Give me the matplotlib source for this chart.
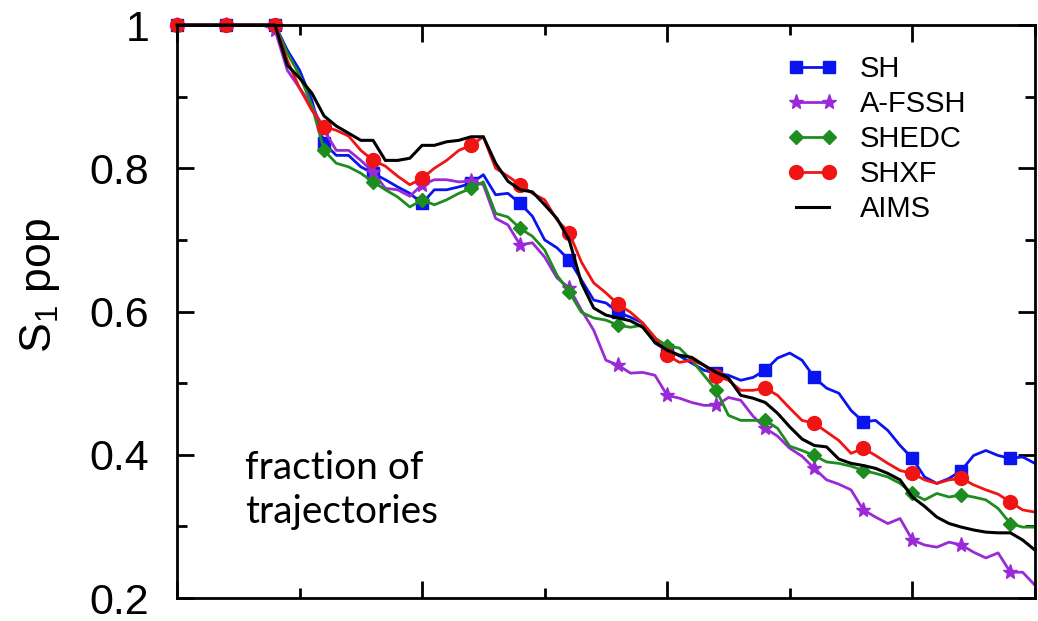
import numpy as np
import matplotlib
matplotlib.use("Agg")
import matplotlib.pyplot as plt
from matplotlib.ticker import MultipleLocator, FixedLocator, FixedFormatter

plt.rcParams['font.family'] = ['Liberation Sans', 'DejaVu Sans']
plt.rcParams['mathtext.default'] = 'regular'

# time axis (fs), one value every 5 fs
t = np.arange(0, 355, 5)

# S1 population
sh = [1.0, 1.0, 1.0, 1.0, 1.0, 1.0, 1.0, 1.0, 1.0,
      0.965, 0.937, 0.895, 0.835, 0.818, 0.818, 0.802, 0.793, 0.784, 0.774, 0.765,
      0.751, 0.770, 0.770, 0.774, 0.779, 0.791, 0.763, 0.765, 0.751, 0.733,
      0.700, 0.689, 0.672, 0.644, 0.616, 0.612, 0.599, 0.592, 0.584, 0.556,
      0.546, 0.538, 0.528, 0.518, 0.514, 0.511, 0.504, 0.508, 0.518, 0.535,
      0.542, 0.532, 0.508, 0.493, 0.486, 0.462, 0.446, 0.448, 0.434, 0.413,
      0.395, 0.369, 0.360, 0.367, 0.378, 0.399, 0.406, 0.399, 0.395, 0.397, 0.388]

afssh = [1.0, 1.0, 1.0, 1.0, 1.0, 1.0, 1.0, 1.0, 0.993,
         0.937, 0.912, 0.888, 0.853, 0.825, 0.825, 0.811, 0.795, 0.772, 0.770, 0.761,
         0.777, 0.784, 0.784, 0.781, 0.782, 0.777, 0.730, 0.721, 0.693, 0.696,
         0.676, 0.647, 0.633, 0.602, 0.574, 0.532, 0.525, 0.514, 0.515, 0.511,
         0.483, 0.479, 0.473, 0.469, 0.469, 0.480, 0.476, 0.454, 0.437, 0.426,
         0.409, 0.398, 0.381, 0.365, 0.359, 0.351, 0.323, 0.313, 0.304, 0.311,
         0.281, 0.274, 0.271, 0.278, 0.274, 0.264, 0.256, 0.263, 0.236, 0.236, 0.218]

shedc = [1.0, 1.0, 1.0, 1.0, 1.0, 1.0, 1.0, 1.0, 1.0,
         0.961, 0.930, 0.888, 0.825, 0.807, 0.802, 0.793, 0.781, 0.770, 0.760, 0.746,
         0.756, 0.749, 0.756, 0.765, 0.772, 0.781, 0.737, 0.732, 0.716, 0.705,
         0.686, 0.651, 0.627, 0.599, 0.591, 0.588, 0.581, 0.578, 0.581, 0.563,
         0.552, 0.549, 0.532, 0.511, 0.490, 0.455, 0.448, 0.448, 0.448, 0.437,
         0.412, 0.406, 0.399, 0.390, 0.388, 0.384, 0.378, 0.374, 0.369, 0.360,
         0.346, 0.337, 0.346, 0.341, 0.344, 0.341, 0.337, 0.325, 0.304, 0.299, 0.299]

shxf = [1.0, 1.0, 1.0, 1.0, 1.0, 1.0, 1.0, 1.0, 1.0,
        0.951, 0.912, 0.881, 0.858, 0.853, 0.845, 0.825, 0.811, 0.803, 0.789, 0.777,
        0.786, 0.800, 0.811, 0.825, 0.832, 0.844, 0.800, 0.789, 0.777, 0.765,
        0.756, 0.728, 0.710, 0.669, 0.640, 0.626, 0.610, 0.599, 0.584, 0.564,
        0.539, 0.529, 0.532, 0.525, 0.510, 0.504, 0.490, 0.490, 0.493, 0.483,
        0.465, 0.448, 0.444, 0.432, 0.420, 0.402, 0.409, 0.399, 0.388, 0.378,
        0.374, 0.365, 0.360, 0.365, 0.367, 0.358, 0.351, 0.345, 0.334, 0.323, 0.320]

aims = [1.0, 1.0, 1.0, 1.0, 1.0, 1.0, 1.0, 1.0, 1.0,
        0.944, 0.926, 0.905, 0.873, 0.859, 0.849, 0.839, 0.839, 0.811, 0.811, 0.814,
        0.832, 0.832, 0.837, 0.839, 0.844, 0.844, 0.807, 0.782, 0.770, 0.767,
        0.749, 0.730, 0.700, 0.640, 0.605, 0.595, 0.591, 0.587, 0.578, 0.557,
        0.546, 0.539, 0.536, 0.525, 0.515, 0.507, 0.483, 0.479, 0.473, 0.458,
        0.439, 0.422, 0.413, 0.411, 0.394, 0.388, 0.385, 0.381, 0.374, 0.365,
        0.341, 0.328, 0.313, 0.304, 0.299, 0.295, 0.292, 0.291, 0.291, 0.281, 0.267]

fig = plt.figure(figsize=(10.38, 6.21), dpi=100)
ax = fig.add_axes([0.1705, 0.037, 0.8265, 0.9227])

ax.plot(t, sh, color='#0a14f0', lw=2, marker='s', ms=8.5, markevery=4,
        label='SH', clip_on=False)
ax.plot(t, afssh, color='#9a2ad8', lw=2, marker='*', ms=11, markevery=4,
        label='A-FSSH', clip_on=False)
ax.plot(t, shedc, color='#1e8c1e', lw=2, marker='D', ms=7.5, markevery=4,
        label='SHEDC', clip_on=False)
ax.plot(t, shxf, color='#f01414', lw=2, marker='o', ms=10, markevery=4,
        label='SHXF', clip_on=False)
ax.plot(t, aims, color='black', lw=2.2, label='AIMS', clip_on=False)

ax.set_xlim(0, 350)
ax.set_ylim(0.2, 1.0)

ax.xaxis.set_major_locator(MultipleLocator(100))
ax.xaxis.set_minor_locator(MultipleLocator(50))
ax.yaxis.set_major_locator(FixedLocator([0.2, 0.4, 0.6, 0.8, 1.0]))
ax.yaxis.set_major_formatter(FixedFormatter(['0.2', '0.4', '0.6', '0.8', '1']))
ax.yaxis.set_minor_locator(MultipleLocator(0.1))

ax.tick_params(which='both', direction='in', top=True, right=True, width=2,
               labelbottom=False)
ax.tick_params(which='major', length=12, labelsize=31, pad=20)
ax.tick_params(which='minor', length=7)
for s in ax.spines.values():
    s.set_linewidth(2)

ax.set_ylabel('S$_1$ pop', fontsize=32, va='center')
ax.yaxis.set_label_coords(-0.16, 0.546)

ax.legend(loc='upper left', bbox_to_anchor=(0.711, 0.948), frameon=False,
          fontsize=21, numpoints=2, handlelength=1.75, handletextpad=0.75,
          labelspacing=0.24, borderpad=0, borderaxespad=0)

fig.text(0.236, 0.276, 'fraction of\ntrajectories', fontsize=28,
         family=['Lato', 'DejaVu Sans'], va='top', ha='left', linespacing=1.3)

fig.savefig('out.png', dpi=100)
